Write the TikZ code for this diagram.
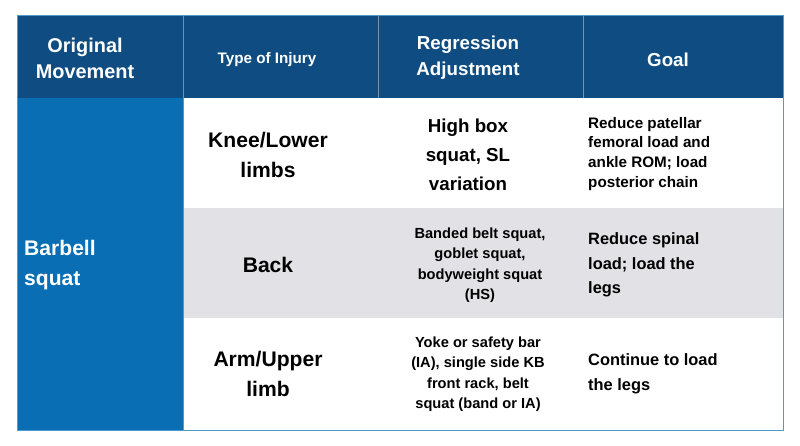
\documentclass[tikz,border=0pt]{standalone}
\usepackage{fontspec}
\setmainfont{Liberation Sans}
\definecolor{headblue}{HTML}{0F4C81}
\definecolor{colblue}{HTML}{0A6EB4}
\definecolor{rowgray}{HTML}{E1E1E6}
\tikzset{
  cell/.style={font=\bfseries, align=center, inner sep=0pt},
  head/.style={cell, text=white},
  goal/.style={cell, align=left, anchor=west, font=\bfseries\fontsize{13}{17}\selectfont}
}
\begin{document}
\begin{tikzpicture}[x=0.03cm, y=-0.03cm]
	\useasboundingbox (0,0) rectangle (800,446);
	% backgrounds
	\fill[headblue] (17,15) rectangle (783,98);
	\fill[colblue] (17,98) rectangle (183,430);
	\fill[rowgray] (183,208) rectangle (783,318);
	\draw[colblue!70, line width=0.6pt] (183,15) -- (183,430);
	\draw[headblue!60, line width=0.4pt] (378,15) -- (378,98) (583,15) -- (583,98);
	\draw[colblue!70, line width=0.6pt] (17,15) rectangle (783,430);
	% header
	\node[head, font=\bfseries\fontsize{17}{22}\selectfont] (hmove) at (85,58) {Original\\Movement};
	\node[head, font=\bfseries\fontsize{13}{17}\selectfont] (hinj) at (267,60) {Type of Injury};
	\node[head, font=\bfseries\fontsize{16}{22}\selectfont] (hreg) at (468,58) {Regression\\Adjustment};
	\node[head, font=\bfseries\fontsize{16}{22}\selectfont] (hgoal) at (668,60) {Goal};
	% first column
	\node[head, align=left, anchor=west, font=\bfseries\fontsize{18}{25}\selectfont] (move) at (24,265) {Barbell\\squat};
	% injuries
	\node[cell, font=\bfseries\fontsize{18}{25}\selectfont] (inj1) at (268,155) {Knee/Lower\\limbs};
	\node[cell, font=\bfseries\fontsize{18}{25}\selectfont] (inj2) at (268,265) {Back};
	\node[cell, font=\bfseries\fontsize{18}{25}\selectfont] (inj3) at (268,374) {Arm/Upper\\limb};
	% regressions
	\node[cell, font=\bfseries\fontsize{16}{25}\selectfont] (reg1) at (468,155) {High box\\squat, SL\\variation};
	\node[cell, font=\bfseries\fontsize{12.5}{17.5}\selectfont] (reg2) at (480,265) {Banded belt squat,\\goblet squat,\\bodyweight squat\\(HS)};
	\node[cell, font=\bfseries\fontsize{12.5}{17.5}\selectfont] (reg3) at (478,374) {Yoke or safety bar\\(IA), single side KB\\front rack, belt\\squat (band or IA)};
	% goals
	\node[goal] (goal1) at (588,154) {Reduce patellar\\femoral load and\\ankle ROM; load\\posterior chain};
	\node[goal, font=\bfseries\fontsize{14}{21}\selectfont] (goal2) at (588,265) {Reduce spinal\\load; load the\\legs};
	\node[goal, font=\bfseries\fontsize{14}{21}\selectfont] (goal3) at (588,374) {Continue to load\\the legs};
\end{tikzpicture}
\end{document}
